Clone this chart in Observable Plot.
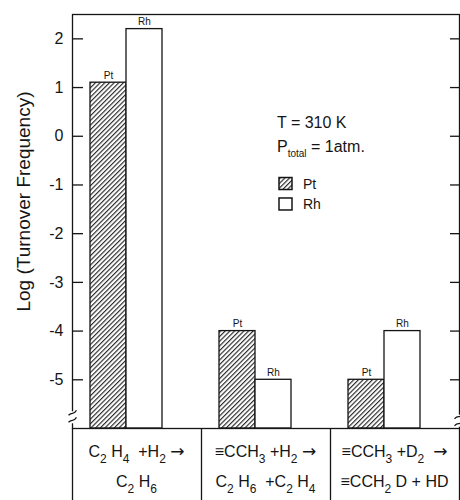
<!DOCTYPE html>
<html><head><meta charset="utf-8">
<script src="https://cdn.jsdelivr.net/npm/d3@7"></script>
<script src="https://cdn.jsdelivr.net/npm/@observablehq/plot@0.6"></script>
<style>
body{margin:0;background:#fff}
#chart svg{display:block}
</style>
</head><body><div id="chart"></div>
<script>
// ---- data ----
const reactionKeys = ["C2H4+H2", "CCH3+H2", "CCH3+D2"];
const reactionLine1 = ["C_{2} H_{4}  +H_{2} →", "≡CCH_{3} +H_{2} →", "≡CCH_{3} +D_{2}  →"];
const reactionLine2 = ["C_{2} H_{6}", "C_{2} H_{6}  +C_{2} H_{4}", "≡CCH_{2} D + HD"];
const catalysts = ["Pt", "Rh"];
const ptValues = [1.1, -4, -5];
const rhValues = [2.2, -5, -4];
const yTicks = [-5, -4, -3, -2, -1, 0, 1, 2];
const yDomain = [-6, 2.5];
const yLabel = "Log (Turnover Frequency)";
const conditionT = "T = 310 K";
const conditionP = "P_{total} = 1atm.";

// ---- layout ----
const W = 460, H = 500, mL = 72, mR = 1, mT = 14, mB = 72;
const frameW = W - mL - mR;
const band = frameW / reactionKeys.length;
const barW = 36, barOff = 18;
const ink = "#151515";
const font = "'Liberation Sans', Arial, sans-serif";

const ptData = reactionKeys.map((r, i) => ({reaction: r, catalyst: catalysts[0], value: ptValues[i]}));
const rhData = reactionKeys.map((r, i) => ({reaction: r, catalyst: catalysts[1], value: rhValues[i]}));

const plot = Plot.plot({
  width: W, height: H,
  marginLeft: mL, marginRight: mR, marginTop: mT, marginBottom: mB,
  style: {fontFamily: font, color: ink, background: "#fff", overflow: "visible"},
  x: {type: "band", domain: reactionKeys, padding: 0, axis: null},
  y: {domain: yDomain, axis: null},
  marks: [
    Plot.barY(ptData, {x: "reaction", y1: yDomain[0], y2: "value", fill: "url(#hatch)", stroke: ink, strokeWidth: 1.3,
      insetLeft: barOff, insetRight: band - barOff - barW}),
    Plot.barY(rhData, {x: "reaction", y1: yDomain[0], y2: "value", fill: "#fff", stroke: ink, strokeWidth: 1.3,
      insetLeft: barOff + barW, insetRight: band - barOff - 2 * barW}),
    Plot.text(ptData, {x: "reaction", y: "value", text: "catalyst", lineAnchor: "bottom", dy: -4,
      dx: barOff + barW / 2 - band / 2, fontSize: 10, fill: ink}),
    Plot.text(rhData, {x: "reaction", y: "value", text: "catalyst", lineAnchor: "bottom", dy: -4,
      dx: barOff + 1.5 * barW - band / 2, fontSize: 10, fill: ink}),
    Plot.ruleY(yTicks, {insetRight: frameW - 11, stroke: ink, strokeWidth: 1.3}),
    Plot.ruleY(yTicks, {insetLeft: frameW - 9, stroke: ink, strokeWidth: 1.3}),
    Plot.axisY(yTicks, {tickSize: 0, tickPadding: 9, fontSize: 16, tickFormat: d => String(d), label: null, fill: ink}),
    Plot.frame({stroke: ink, strokeWidth: 1.3})
  ]
});

document.getElementById("chart").appendChild(plot);

// ---- decorations drawn with the plot's scales ----
const svg = d3.select(plot);
const xs = plot.scale("x"), ys = plot.scale("y");

const defs = svg.insert("defs", ":first-child");
const pat = defs.append("pattern").attr("id", "hatch").attr("patternUnits", "userSpaceOnUse")
  .attr("width", 3.3).attr("height", 3.3).attr("patternTransform", "rotate(45)");
pat.append("rect").attr("width", 3.3).attr("height", 3.3).attr("fill", "#fff");
pat.append("line").attr("x1", 0.6).attr("y1", -1).attr("x2", 0.6).attr("y2", 5).attr("stroke", ink).attr("stroke-width", 1.05);

function richText(sel, str, subSize, subShift) {
  const parts = str.split(/(_\{[^}]*\}|→)/).filter(s => s !== "");
  let shifted = false;
  for (const p of parts) {
    const m = p.match(/^_\{([^}]*)\}$/);
    const t = sel.append("tspan").text(m ? m[1] : p);
    if (p === "→") t.attr("font-family", "'DejaVu Sans', sans-serif").attr("font-size", 17);
    if (m) {
      t.attr("font-size", subSize);
      if (!shifted) { t.attr("dy", subShift); shifted = true; }
    } else if (shifted) { t.attr("dy", -subShift); shifted = false; }
  }
}

// table under the plot
const yBase = ys.apply(yDomain[0]);
const g = svg.append("g").attr("font-family", font).attr("fill", ink).attr("text-anchor", "start");
const xEdges = reactionKeys.map(r => xs.apply(r)).concat([xs.apply(reactionKeys[reactionKeys.length - 1]) + xs.bandwidth]);
xEdges.forEach(x => {
  g.append("line").attr("x1", x + 0.5).attr("x2", x + 0.5).attr("y1", yBase).attr("y2", H)
    .attr("stroke", ink).attr("stroke-width", 1.3);
});
reactionKeys.forEach((r, i) => {
  const cx = xs.apply(r) + xs.bandwidth / 2;
  const t1 = g.append("text").attr("x", cx).attr("y", yBase + 29).attr("text-anchor", "middle")
    .attr("font-size", 16).style("white-space", "pre");
  richText(t1, reactionLine1[i], 12, 6);
  const t2 = g.append("text").attr("x", cx).attr("y", yBase + 59).attr("text-anchor", "middle")
    .attr("font-size", 16).style("white-space", "pre");
  richText(t2, reactionLine2[i], 12, 6);
});

// axis breaks
function breakMark(x, y) {
  const b = g.append("g").attr("transform", `translate(${x + 0.5},${y})`);
  b.append("rect").attr("x", -3).attr("y", -6).attr("width", 6).attr("height", 12).attr("fill", "#fff");
  b.append("path").attr("d", "M-4,-2 q2,-2 4,-2 t4,-3 M-4,5 q2,-2 4,-2 t4,-3")
    .attr("fill", "none").attr("stroke", ink).attr("stroke-width", 1.3);
}
breakMark(xEdges[0], ys.apply(-5.78));
breakMark(xEdges[xEdges.length - 1] - 1, ys.apply(-5.85));

// y label
g.append("text").attr("transform", `translate(30,${ys.apply(-1.35)}) rotate(-90)`)
  .attr("text-anchor", "middle").attr("font-size", 19).text(yLabel);

// conditions + legend
const lx = 277;
g.append("text").attr("x", lx).attr("y", ys.apply(0.16)).attr("font-size", 16).style("white-space", "pre").text(conditionT);
const tp = g.append("text").attr("x", lx).attr("y", ys.apply(-0.33)).attr("font-size", 16).style("white-space", "pre");
richText(tp, conditionP, 10, 5);
[["url(#hatch)", catalysts[0], -0.96], ["#fff", catalysts[1], -1.38]].forEach(([f, lab, v]) => {
  const yy = ys.apply(v);
  g.append("rect").attr("x", lx + 2).attr("y", yy - 5).attr("width", 13).attr("height", 12)
    .attr("fill", f).attr("stroke", ink).attr("stroke-width", 1.5);
  g.append("text").attr("x", lx + 26).attr("y", yy + 6).attr("font-size", 14).text(lab);
});
</script>
</body></html>
